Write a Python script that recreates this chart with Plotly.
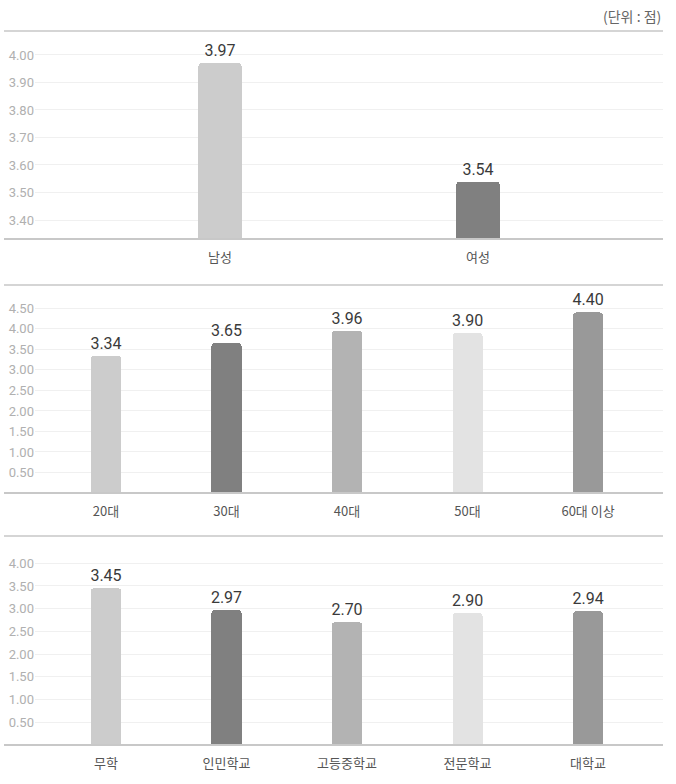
import plotly.graph_objects as go

# ---- data ----
gender_cats = ["남성", "여성"]
gender_vals = [3.97, 3.54]

age_cats = ["20대", "30대", "40대", "50대", "60대 이상"]
age_vals = [3.34, 3.65, 3.96, 3.90, 4.40]

edu_cats = ["무학", "인민학교", "고등중학교", "전문학교", "대학교"]
edu_vals = [3.45, 2.97, 2.70, 2.90, 2.94]

gender_ticks = [3.4, 3.5, 3.6, 3.7, 3.8, 3.9, 4.0]
age_ticks = [0.5, 1.0, 1.5, 2.0, 2.5, 3.0, 3.5, 4.0, 4.5]
edu_ticks = [0.5, 1.0, 1.5, 2.0, 2.5, 3.0, 3.5, 4.0]

unit_label = "(단위 : 점)"

# ---- styling ----
W, H = 676, 784
colors2 = ["#cccccc", "#808080"]
colors5 = ["#cccccc", "#808080", "#b3b3b3", "#e3e3e3", "#999999"]
FONT = "Roboto, 'Noto Sans CJK KR', sans-serif"
KFONT = "'Noto Sans CJK KR', Roboto, sans-serif"

x_dom = [35 / W, 663 / W]
line_x0, line_x1 = 4 / W, 663 / W

def ydom(top_px, bot_px):
    return [1 - bot_px / H, 1 - top_px / H]

panels = [
    dict(cats=gender_cats, vals=gender_vals, colors=colors2, width=0.167,
         ticks=gender_ticks, yrange=[3.331, 4.087], xrange=[-0.717, 1.717],
         dom=ydom(31, 239)),
    dict(cats=age_cats, vals=age_vals, colors=colors5, width=0.249,
         ticks=age_ticks, yrange=[0, 5.07], xrange=[-0.589, 4.622],
         dom=ydom(285, 493)),
    dict(cats=edu_cats, vals=edu_vals, colors=colors5, width=0.249,
         ticks=edu_ticks, yrange=[0, 4.6], xrange=[-0.589, 4.622],
         dom=ydom(536, 745)),
]

fig = go.Figure()
shapes = []
for i, p in enumerate(panels, start=1):
    sfx = "" if i == 1 else str(i)
    fig.add_trace(go.Bar(
        x=list(range(len(p["cats"]))), y=p["vals"],
        marker=dict(color=p["colors"], cornerradius=3, line=dict(width=0)),
        width=p["width"],
        text=[f"{v:.2f}" for v in p["vals"]],
        textposition="outside", constraintext="none", cliponaxis=False,
        textfont=dict(family=FONT, size=16, color="#3a3a3a"),
        xaxis="x" + sfx, yaxis="y" + sfx, showlegend=False,
        hoverinfo="skip",
    ))
    fig.layout["xaxis" + sfx] = dict(
        domain=x_dom, anchor="y" + sfx, range=p["xrange"],
        tickmode="array", tickvals=list(range(len(p["cats"]))), ticktext=p["cats"],
        showgrid=False, zeroline=False, showline=False,
        ticks="outside", ticklen=6, tickcolor="rgba(0,0,0,0)",
        tickfont=dict(family=KFONT, size=13, color="#555555"),
        fixedrange=True,
    )
    fig.layout["yaxis" + sfx] = dict(
        domain=p["dom"], anchor="x" + sfx, range=p["yrange"],
        tickmode="array", tickvals=p["ticks"],
        ticktext=[f"{t:.2f}" for t in p["ticks"]],
        showgrid=True, gridcolor="#f0f0f0", gridwidth=1,
        zeroline=False, showline=False,
        tickfont=dict(family=FONT, size=13, color="#b0b0b0"),
        fixedrange=True,
    )
    for yy, col in ((p["dom"][0], "#c8c8c8"), (p["dom"][1], "#d5d5d5")):
        shapes.append(dict(type="line", xref="paper", yref="paper",
                           x0=line_x0, x1=line_x1, y0=yy, y1=yy,
                           line=dict(color=col, width=2), layer="above"))

fig.update_layout(
    width=W, height=H,
    margin=dict(l=0, r=0, t=0, b=0),
    paper_bgcolor="white", plot_bgcolor="white",
    bargap=0, shapes=shapes,
    font=dict(family=FONT),
    annotations=[dict(text=unit_label, xref="paper", yref="paper",
                      x=663 / W, y=1 - 16 / H, xanchor="right", yanchor="middle",
                      showarrow=False,
                      font=dict(family=KFONT, size=14, color="#666666"))],
)

fig.write_html(
    "out.html",
    config={"displayModeBar": False, "staticPlot": True},
    post_script="document.body.style.margin='0';document.body.style.overflow='hidden';",
)
